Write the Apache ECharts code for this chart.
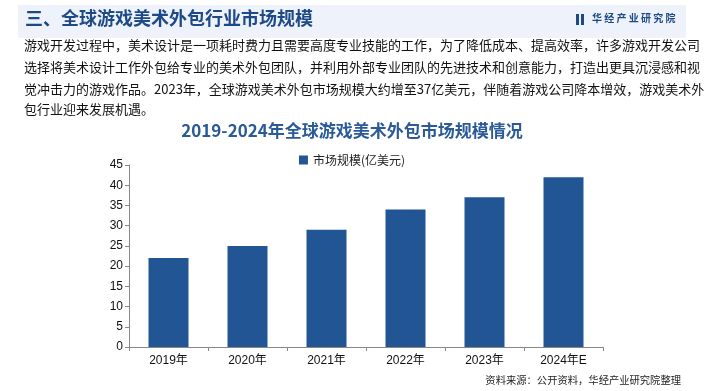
<!DOCTYPE html>
<html><head><meta charset="utf-8">
<script src="https://cdn.jsdelivr.net/npm/echarts@6/dist/echarts.min.js"></script>
<style>html,body{margin:0;padding:0;background:#fff}#c{width:704px;height:391px}</style>
</head><body><div id="c"></div>
<script>
var categories = ['2019年','2020年','2021年','2022年','2023年','2024年E'];
var values = [22, 25, 29, 34, 37, 42];
var seriesName = '市场规模(亿美元)';
var headerTitle = '三、全球游戏美术外包行业市场规模';
var chartTitle = '2019-2024年全球游戏美术外包市场规模情况';
var paragraphLines = [
  '游戏开发过程中，美术设计是一项耗时费力且需要高度专业技能的工作，为了降低成本、提高效率，许多游戏开发公司',
  '选择将美术设计工作外包给专业的美术外包团队，并利用外部专业团队的先进技术和创意能力，打造出更具沉浸感和视',
  '觉冲击力的游戏作品。2023年，全球游戏美术外包市场规模大约增至37亿美元，伴随着游戏公司降本增效，游戏美术外',
  '包行业迎来发展机遇。'
];
var sourceText = '资料来源：公开资料，华经产业研究院整理';
var brand = '华经产业研究院';

var font = '"Noto Sans CJK SC","Liberation Sans",Arial,sans-serif';
var chart = echarts.init(document.getElementById('c'), null, {renderer:'canvas'});

var graphics = [
  {type:'rect', left:18, top:5, shape:{width:668, height:33}, style:{fill:'#eef3fb'}, silent:true},
  {type:'text', left:25, top:9, style:{text:headerTitle, font:'bold 18px '+font, fill:'#1d4a86'}},
  {type:'rect', left:576, top:14, shape:{width:3, height:11}, style:{fill:'#1d4a86'}},
  {type:'rect', left:581, top:14, shape:{width:3, height:11}, style:{fill:'#1d4a86'}},
  {type:'text', left:592, top:13, style:{text:brand.split('').join(' '), font:'bold 10px '+font, fill:'#1d4a86'}},
  {type:'text', right:23, top:375, style:{text:sourceText, font:'10.3px '+font, fill:'#222'}}
];
var lineTops = [39, 61, 83, 103];
paragraphLines.forEach(function(t, i){
  graphics.push({type:'text', left:24, top:lineTops[i], style:{text:t, font:'13px '+font, fill:'#111'}});
});

chart.setOption({
  animation:false,
  title:{text:chartTitle, left:'center', top:117, textStyle:{fontFamily:font, fontSize:17, fontWeight:'bold', color:'#2a5a97'}},
  legend:{top:149, left:'center', itemWidth:9, itemHeight:9, icon:'rect', textStyle:{fontFamily:font, fontSize:12, color:'#222'}, data:[seriesName]},
  grid:{left:129, right:101, top:165, bottom:44},
  xAxis:{type:'category', data:categories,
    axisLine:{lineStyle:{color:'#888'}},
    axisTick:{show:true, alignWithLabel:false, length:4, lineStyle:{color:'#888'}},
    axisLabel:{fontFamily:'"Liberation Sans",Arial,"Noto Sans CJK SC",sans-serif', fontSize:12, color:'#111', margin:8}},
  yAxis:{type:'value', min:0, max:45, interval:5,
    axisLine:{show:true, lineStyle:{color:'#888'}},
    axisTick:{show:true, length:4, lineStyle:{color:'#888'}},
    splitLine:{show:false},
    axisLabel:{fontFamily:'"Liberation Sans",Arial,sans-serif', fontSize:12, color:'#111', margin:6}},
  series:[{name:seriesName, type:'bar', data:values, barWidth:40, itemStyle:{color:'#215593'}}],
  graphic:graphics
});
</script></body></html>
